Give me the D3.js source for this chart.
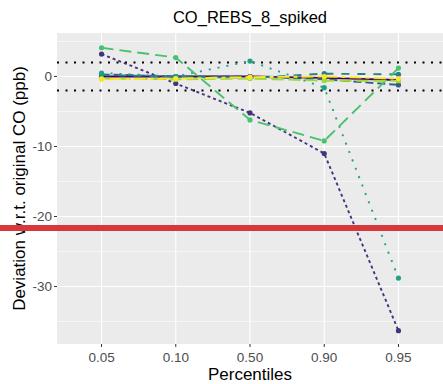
<!DOCTYPE html>
<html><head><meta charset="utf-8">
<script src="https://cdn.jsdelivr.net/npm/d3@7"></script>
<style>body{margin:0;background:#fff}svg{display:block;font-family:"Liberation Sans",Arial,sans-serif}</style>
</head><body><svg id="c" width="443" height="384"></svg>
<script>
const categories = ["0.05","0.10","0.50","0.90","0.95"];
const seriesNames = ["s1","s2","s3","s4","s5","s6","s7","s8"];
const seriesColors = ["#440154","#46337E","#365C8D","#277F8E","#1FA187","#4AC16D","#9FDA3A","#FDE725"];
const seriesDash = ["", "3,3", "8,4", "8,8", "2,7", "12,6", "12,5", "4,4,12,4"];
const s1 = [0.0, 0.0, 0.0, -0.2, -0.5];
const s2 = [3.2, -1.0, -5.2, -11.0, -36.3];
const s3 = [0.3, 0.0, 0.0, -0.4, -1.2];
const s4 = [0.2, 0.0, -0.2, 0.4, 0.3];
const s5 = [0.5, 0.0, 2.2, -1.6, -28.8];
const s6 = [4.1, 2.7, -6.2, -9.2, 1.2];
const s7 = [-0.3, -0.4, -0.3, -0.6, -0.6];
const s8 = [-0.4, -0.3, -0.1, 0.0, -0.3];
const seriesValues = [s1,s2,s3,s4,s5,s6,s7,s8];
const yTicks = [0, -10, -20, -30];
const yMinor = [5, -5, -15, -25, -35];
const refLines = [2, -2];
const redLineY = 228;

const svg = d3.select("#c");
const L = 57, R = 443, T = 33, B = 344;
const x = d3.scalePoint().domain(categories).range([L, R]).padding(0.6);
const y = d3.scaleLinear().domain([-38.21, 6.21]).range([B, T]);

svg.append("rect").attr("x", L).attr("y", T).attr("width", R - L).attr("height", B - T).attr("fill", "#EBEBEB");
const grid = svg.append("g");
yMinor.forEach(v => grid.append("line").attr("x1", L).attr("x2", R).attr("y1", y(v)).attr("y2", y(v)).attr("stroke", "#fff").attr("stroke-width", 0.55));
yTicks.forEach(v => grid.append("line").attr("x1", L).attr("x2", R).attr("y1", y(v)).attr("y2", y(v)).attr("stroke", "#fff").attr("stroke-width", 1.1));
categories.forEach(c => grid.append("line").attr("x1", x(c)).attr("x2", x(c)).attr("y1", T).attr("y2", B).attr("stroke", "#fff").attr("stroke-width", 1.1));

refLines.forEach(v => svg.append("line").attr("x1", L).attr("x2", R).attr("y1", y(v)).attr("y2", y(v))
  .attr("stroke", "#000").attr("stroke-width", 2).attr("stroke-dasharray", "2,6.5").attr("stroke-linecap", "butt"));

const line = d3.line().x((d, i) => x(categories[i])).y(d => y(d));
seriesValues.forEach((vals, k) => {
  const g = svg.append("g");
  g.append("path").attr("d", line(vals)).attr("fill", "none").attr("stroke", seriesColors[k])
    .attr("stroke-width", 1.9).attr("stroke-dasharray", seriesDash[k] || null);
  g.selectAll("circle").data(vals).join("circle").attr("cx", (d, i) => x(categories[i])).attr("cy", d => y(d))
    .attr("r", 2.6).attr("fill", seriesColors[k]);
});

// axes
const yAxis = svg.append("g");
yTicks.forEach(v => {
  yAxis.append("line").attr("x1", L - 3).attr("x2", L).attr("y1", y(v)).attr("y2", y(v)).attr("stroke", "#333").attr("stroke-width", 1);
  yAxis.append("text").attr("x", L - 5).attr("y", y(v)).attr("dy", "0.35em").attr("text-anchor", "end")
    .attr("font-size", 13.5).attr("fill", "#4D4D4D").text(v);
});
const xAxis = svg.append("g");
categories.forEach(c => {
  xAxis.append("line").attr("x1", x(c)).attr("x2", x(c)).attr("y1", B).attr("y2", B + 3).attr("stroke", "#333").attr("stroke-width", 1);
  xAxis.append("text").attr("x", x(c)).attr("y", B + 18).attr("text-anchor", "middle")
    .attr("font-size", 13.5).attr("fill", "#4D4D4D").text(c);
});
svg.append("text").attr("x", (L + R) / 2).attr("y", 380).attr("text-anchor", "middle").attr("font-size", 17).attr("fill", "#000").text("Percentiles");
svg.append("text").attr("transform", `translate(25,${(T + B) / 2}) rotate(-90)`).attr("text-anchor", "middle")
  .attr("font-size", 17).attr("fill", "#000").text("Deviation w.r.t. original CO (ppb)");
svg.append("text").attr("x", (L + R) / 2).attr("y", 23).attr("text-anchor", "middle").attr("font-size", 16.5).attr("fill", "#000").text("CO_REBS_8_spiked");

svg.append("rect").attr("x", 0).attr("y", redLineY - 3).attr("width", 443).attr("height", 6).attr("fill", "#D7383B");
</script></body></html>
